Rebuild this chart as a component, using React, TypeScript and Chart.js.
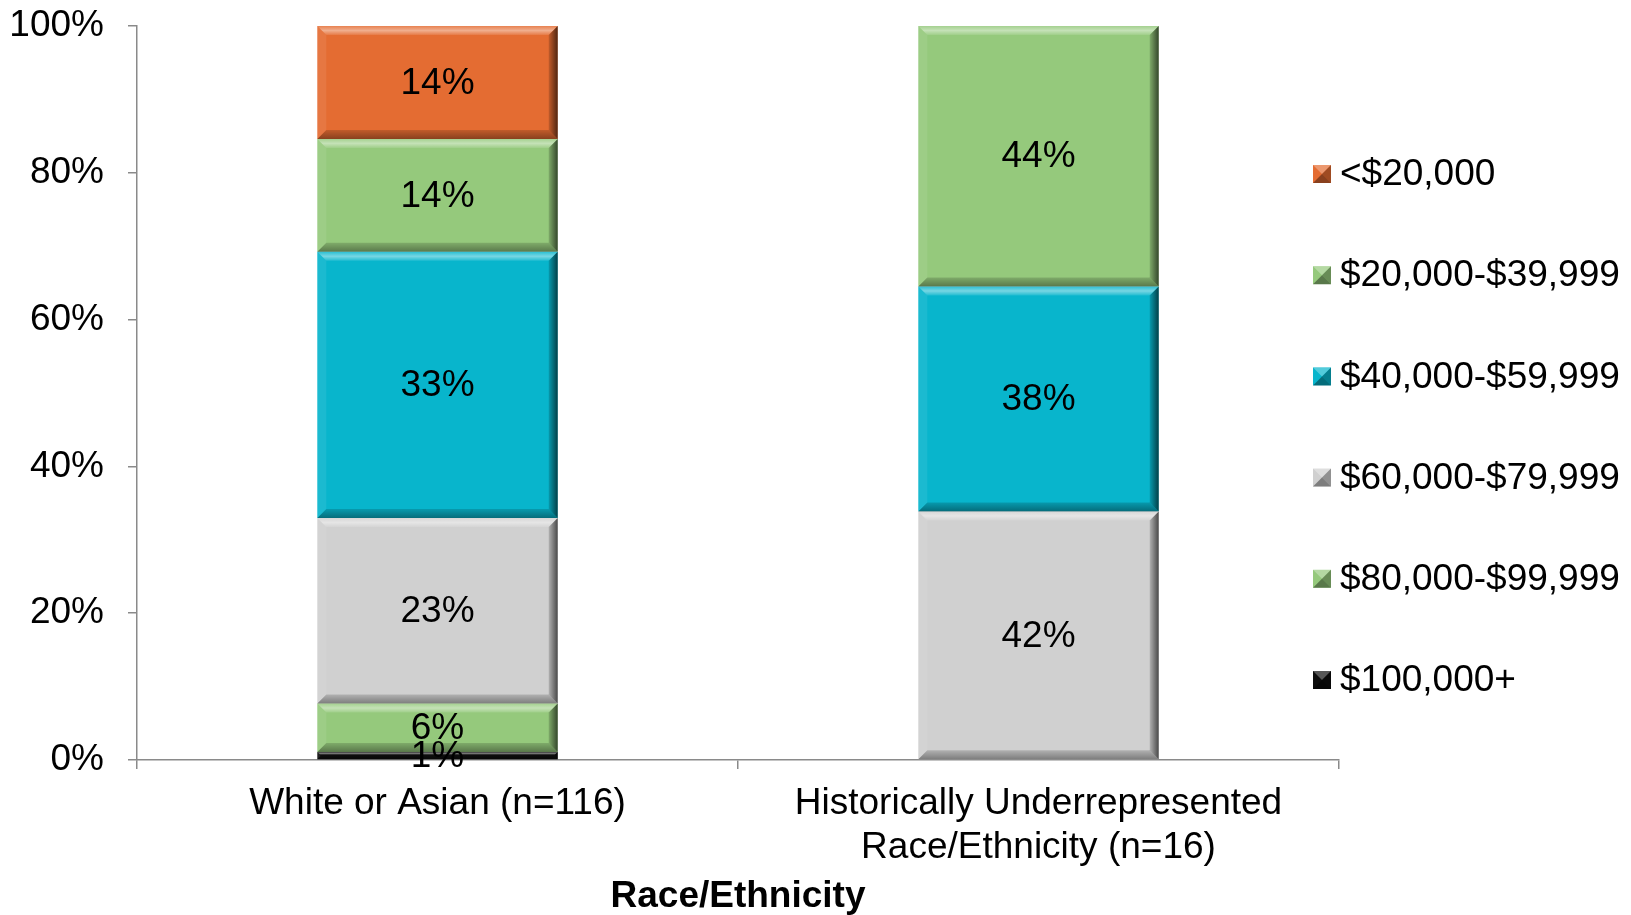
import React, { useEffect, useRef } from "react";
import { Chart, registerables } from "chart.js";

Chart.register(...registerables);

// ---- Data (values shown as the data labels, in %) ----
const categories: string[][] = [
  ["White or Asian (n=116)"],
  ["Historically Underrepresented", "Race/Ethnicity (n=16)"],
];
const seriesNames = [
  "<$20,000",
  "$20,000-$39,999",
  "$40,000-$59,999",
  "$60,000-$79,999",
  "$80,000-$99,999",
  "$100,000+",
];
const under20k = [14, 0];
const from20to40k = [14, 44];
const from40to60k = [33, 38];
const from60to80k = [23, 42];
const from80to100k = [6, 0];
const over100k = [1, 0];
const yTicks = [0, 20, 40, 60, 80, 100];
const xTitle = "Race/Ethnicity";

const seriesColors = ["#E46C32", "#95C97C", "#08B5CC", "#D0D0D0", "#95C97C", "#0D0D0D"];

const FONT = "'Liberation Sans', Arial, sans-serif";
const FS = 37;

export default function App() {
  const ref = useRef<HTMLCanvasElement | null>(null);

  useEffect(() => {
    if (!ref.current) return;
    const raw = [under20k, from20to40k, from40to60k, from60to80k, from80to100k, over100k];
    const totals = categories.map((_, i) => raw.reduce((s, arr) => s + arr[i], 0));
    // bottom of stack first
    const order = [5, 4, 3, 2, 1, 0];
    const datasets = order.map((k) => ({
      label: seriesNames[k],
      rawValues: raw[k],
      data: raw[k].map((v, i) => (v / totals[i]) * 100),
      backgroundColor: seriesColors[k],
      borderWidth: 0,
      categoryPercentage: 1,
      barPercentage: 0.4,
    }));

    const bevelPlugin = {
      id: "bevel",
      afterDatasetsDraw(chart: any) {
        const ctx = chart.ctx;
        chart.data.datasets.forEach((ds: any, di: number) => {
          const meta = chart.getDatasetMeta(di);
          meta.data.forEach((el: any, i: number) => {
            const { x, y, base, width } = el.getProps(["x", "y", "base", "width"], true);
            const top = Math.min(y, base);
            const bottom = Math.max(y, base);
            const h = bottom - top;
            if (h < 0.5) return;
            const left = x - width / 2;
            const right = x + width / 2;
            const b = Math.min(9, h / 2.5, width / 2);
            ctx.save();
            const poly = (pts: number[][], fill: any) => {
              ctx.beginPath();
              ctx.moveTo(pts[0][0], pts[0][1]);
              for (let j = 1; j < pts.length; j++) ctx.lineTo(pts[j][0], pts[j][1]);
              ctx.closePath();
              ctx.fillStyle = fill;
              ctx.fill();
            };
            const gt = ctx.createLinearGradient(0, top, 0, top + b);
            gt.addColorStop(0, "rgba(255,255,255,0.15)");
            gt.addColorStop(0.5, "rgba(255,255,255,0.45)");
            gt.addColorStop(1, "rgba(255,255,255,0.1)");
            poly([[left, top], [right, top], [right - b, top + b], [left + b, top + b]], gt);
            poly([[left, top], [left + b, top + b], [left + b, bottom - b], [left, bottom]], "rgba(255,255,255,0.08)");
            const g = ctx.createLinearGradient(right - b, 0, right, 0);
            g.addColorStop(0, "rgba(0,0,0,0.15)");
            g.addColorStop(1, "rgba(0,0,0,0.65)");
            poly([[right, top], [right, bottom], [right - b, bottom - b], [right - b, top + b]], g);
            const gb = ctx.createLinearGradient(0, bottom - b, 0, bottom);
            gb.addColorStop(0, "rgba(0,0,0,0.15)");
            gb.addColorStop(1, "rgba(0,0,0,0.4)");
            poly([[left, bottom], [right, bottom], [right - b, bottom - b], [left + b, bottom - b]], gb);
            ctx.restore();
          });
        });
      },
      afterDraw(chart: any) {
        const ctx = chart.ctx;
        // data labels
        ctx.save();
        ctx.font = `${FS}px ${FONT}`;
        ctx.fillStyle = "#000";
        ctx.textAlign = "center";
        ctx.textBaseline = "middle";
        chart.data.datasets.forEach((ds: any, di: number) => {
          const meta = chart.getDatasetMeta(di);
          meta.data.forEach((el: any, i: number) => {
            const v = ds.rawValues[i];
            if (!v) return;
            const { x, y, base } = el.getProps(["x", "y", "base"], true);
            ctx.fillText(`${v}%`, x, (y + base) / 2 + 1);
          });
        });
        ctx.restore();

        // legend
        ctx.save();
        const lx = 1313;
        const tx = 1340;
        const y0 = 174;
        const step = 101.2;
        const n = chart.data.datasets.length;
        for (let j = 0; j < n; j++) {
          const ds = chart.data.datasets[n - 1 - j];
          const cy = y0 + j * step;
          const s = 18;
          const l = lx, t = cy - s / 2, r = lx + s, bt = cy + s / 2;
          ctx.fillStyle = ds.backgroundColor;
          ctx.fillRect(l, t, s, s);
          const c = (pts: number[][], fill: string) => {
            ctx.beginPath();
            ctx.moveTo(pts[0][0], pts[0][1]);
            for (let k = 1; k < pts.length; k++) ctx.lineTo(pts[k][0], pts[k][1]);
            ctx.closePath();
            ctx.fillStyle = fill;
            ctx.fill();
          };
          const m = s / 2;
          c([[l, t], [r, t], [l + m, t + m]], "rgba(255,255,255,0.3)");
          c([[r, t], [r, bt], [l + m, t + m]], "rgba(0,0,0,0.3)");
          c([[l, bt], [r, bt], [l + m, t + m]], "rgba(0,0,0,0.4)");
          ctx.fillStyle = "#000";
          ctx.font = `${FS}px ${FONT}`;
          ctx.textAlign = "left";
          ctx.textBaseline = "middle";
          ctx.fillText(ds.label, tx, cy + 1);
        }
        ctx.restore();
      },
    };

    const chart = new Chart(ref.current, {
      type: "bar",
      data: { labels: categories, datasets: datasets as any },
      options: {
        animation: false,
        responsive: false,
        maintainAspectRatio: false,
        layout: { padding: { left: 0, right: 292, top: 26, bottom: 0 } },
        plugins: { legend: { display: false }, tooltip: { enabled: false } },
        scales: {
          x: {
            stacked: true,
            offset: true,
            afterFit: (s: any) => {
              s.height = 155;
              s.paddingLeft = 0;
              s.paddingRight = 0;
            },
            grid: {
              offset: true,
              drawOnChartArea: false,
              drawTicks: true,
              tickLength: 9,
              color: "#8a8a8a",
              lineWidth: 1.5,
            },
            border: { display: true, color: "#8a8a8a", width: 1.5 },
            ticks: {
              color: "#000",
              padding: 13,
              maxRotation: 0,
              autoSkip: false,
              font: { family: FONT, size: FS, lineHeight: 44 / FS },
            },
            title: {
              display: true,
              text: xTitle,
              color: "#000",
              padding: { top: 0, bottom: 0 },
              font: { family: FONT, size: FS, weight: "bold", lineHeight: 1 },
            },
          },
          y: {
            stacked: true,
            min: 0,
            max: 100,
            afterFit: (s: any) => {
              s.width = 137;
              s.paddingTop = 0;
              s.paddingBottom = 0;
            },
            afterBuildTicks: (s: any) => {
              s.ticks = yTicks.map((v) => ({ value: v }));
            },
            grid: {
              drawOnChartArea: false,
              drawTicks: true,
              tickLength: 9,
              color: "#8a8a8a",
              lineWidth: 1.5,
            },
            border: { display: true, color: "#8a8a8a", width: 1.5 },
            ticks: {
              color: "#000",
              padding: 24,
              font: { family: FONT, size: FS },
              callback: (v: any) => `${v}%`,
            },
          },
        },
      },
      plugins: [bevelPlugin],
    });
    return () => chart.destroy();
  }, []);

  return (
    <div style={{ position: "absolute", left: 0, top: 0, width: 1631, height: 915, background: "#fff" }}>
      <canvas ref={ref} width={1631} height={915} style={{ display: "block" }} />
    </div>
  );
}
